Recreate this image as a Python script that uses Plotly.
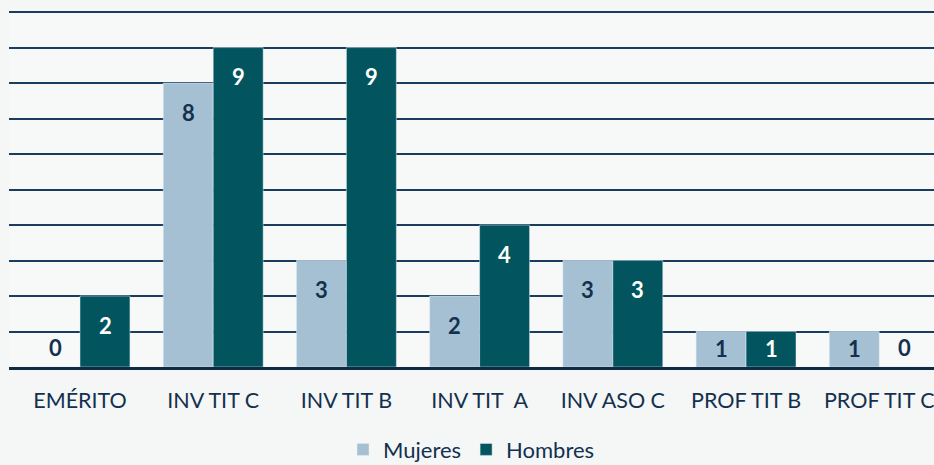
import plotly.graph_objects as go

# categories and values
categorias = ["EMÉRITO", "INV TIT C", "INV TIT B", "INV TIT\u00a0 A", "INV ASO C", "PROF TIT B", "PROF TIT C"]
mujeres = [0, 8, 3, 2, 3, 1, 1]
hombres = [2, 9, 9, 4, 3, 1, 0]

color_muj = "#a6c0d3"
color_hom = "#02555e"
texto = "#13314f"

fig = go.Figure()
fig.add_trace(go.Bar(name="Mujeres", x=categorias, y=mujeres, marker_color=color_muj))
fig.add_trace(go.Bar(name="Hombres", x=categorias, y=hombres, marker_color=color_hom))

# value labels: inside near the top, centred for short bars, above the baseline for zeros
def label_shift(v):
    if v == 0:
        return 20
    if v == 1:
        return -17
    return -29

for serie, shift_x, color_in in [(mujeres, -25, texto), (hombres, 25, "white")]:
    for cat, v in zip(categorias, serie):
        fig.add_annotation(
            x=cat, y=v, text=f"<b>{v}</b>", showarrow=False,
            xshift=shift_x, yshift=label_shift(v), yanchor="middle",
            font=dict(family="Lato", size=22, color=texto if v == 0 else color_in),
        )

fig.update_layout(
    width=934, height=465,
    barmode="group", bargap=0.25, bargroupgap=0,
    paper_bgcolor="#f5f6f6", plot_bgcolor="#f7f8f8",
    margin=dict(l=9, r=0, t=11, b=98, autoexpand=False),
    font=dict(family="Lato", color=texto),
    showlegend=True,
    legend=dict(orientation="h", x=0.5, xanchor="center", y=-0.232, yanchor="middle",
                font=dict(size=22, color=texto), itemwidth=30, bgcolor="rgba(0,0,0,0)"),
    xaxis=dict(range=[-0.533, 6.411], showgrid=False, showline=True, linecolor="#0d2b45",
               linewidth=3, ticks="", ticklabelstandoff=12,
               tickfont=dict(size=21.5, color=texto)),
    yaxis=dict(range=[0, 10.03], dtick=1, showgrid=True, gridcolor="#1b3c5c", gridwidth=2,
               showticklabels=False, zeroline=False),
)

# drop the page's default body margin so the figure fills the window
fig.write_html("out.html", config={"displayModeBar": False},
               post_script="document.body.style.margin='0';")
